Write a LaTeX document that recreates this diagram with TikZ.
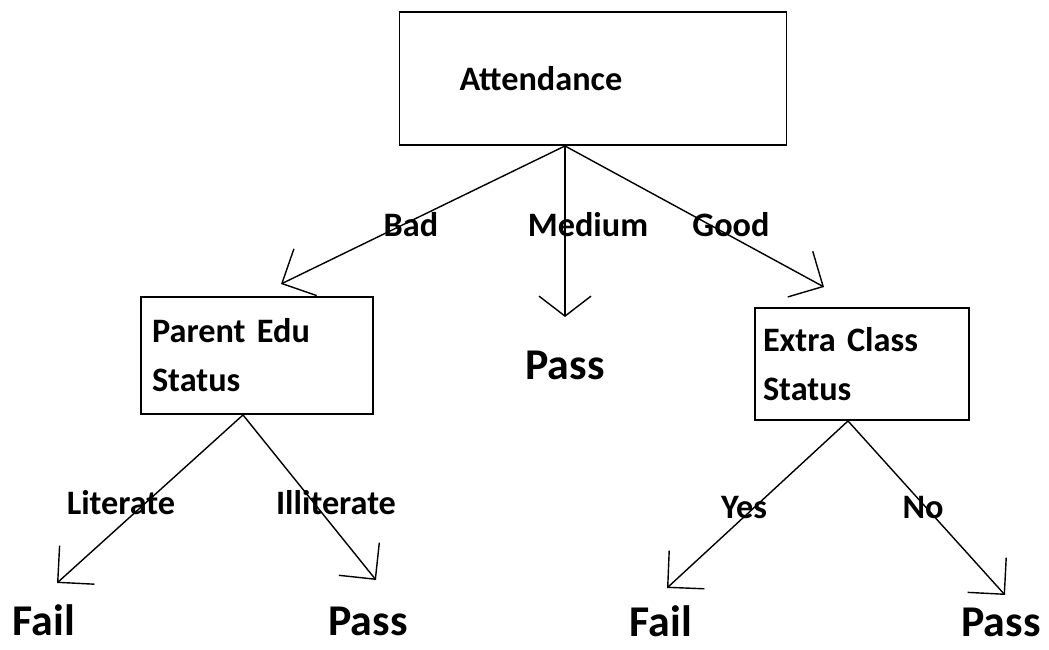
\documentclass[tikz,border=0pt]{standalone}
\usepackage{fontspec}
\setmainfont{Carlito}
\usetikzlibrary{arrows.meta}
\tikzset{
  treebox/.style={draw,line width=1.1pt,align=left,font=\bfseries\fontsize{19.5}{28}\selectfont},
  edgelabel/.style={anchor=base,inner sep=0pt,font=\bfseries\fontsize{19.5}{24}\selectfont},
  leaf/.style={anchor=base,inner sep=0pt,font=\bfseries\fontsize{25}{30}\selectfont},
  barbarrow/.style={line width=0.8pt,-{Straight Barb[length=0.52cm,width=1.04cm]}},
  vbarrow/.style={line width=0.8pt,-{Straight Barb[length=0.4cm,width=1.04cm]}}
}
\begin{document}
\begin{tikzpicture}
    \useasboundingbox (0,0) rectangle (20.98,-13);
    % decision nodes
    \node[treebox,minimum width=7.74cm,minimum height=2.66cm,text width=5.34cm,inner xsep=1.2cm] (att) at (11.86,-1.57) {Attendance};
    \node[treebox,minimum width=4.64cm,minimum height=2.34cm,text width=4.2cm,inner xsep=0.22cm] (parent) at (5.14,-7.11) {Parent Edu\\Status};
    \node[treebox,minimum width=4.28cm,minimum height=2.24cm,text width=3.96cm,inner xsep=0.16cm] (extra) at (17.24,-7.28) {Extra Class\\Status};
    % leaves
    \node[leaf] (passmid) at (11.30,-7.60) {Pass};
    \node[leaf] (failL) at (0.88,-12.72) {Fail};
    \node[leaf] (passL) at (7.36,-12.72) {Pass};
    \node[leaf] (failR) at (13.22,-12.74) {Fail};
    \node[leaf] (passR) at (20.02,-12.74) {Pass};
    % arrow ends
    \coordinate (tipbad) at (5.62,-5.68);
    \coordinate (tipmed) at (11.30,-6.34);
    \coordinate (tipgood) at (16.48,-5.74);
    \coordinate (tiplit) at (1.14,-11.66);
    \coordinate (tipill) at (7.52,-11.60);
    \coordinate (tipyes) at (13.34,-11.76);
    \coordinate (tipno) at (20.10,-11.90);
    \draw[barbarrow] ([xshift=-0.56cm]att.south) -- (tipbad);
    \draw[vbarrow] ([xshift=-0.56cm]att.south) -- (tipmed);
    \draw[barbarrow] ([xshift=-0.56cm]att.south) -- (tipgood);
    \draw[barbarrow] ([xshift=-0.28cm]parent.south) -- (tiplit);
    \draw[barbarrow] ([xshift=-0.28cm]parent.south) -- (tipill);
    \draw[barbarrow] ([xshift=-0.28cm]extra.south) -- (tipyes);
    \draw[barbarrow] ([xshift=-0.28cm]extra.south) -- (tipno);
    % branch labels
    \node[edgelabel] (bad) at (8.22,-4.74) {Bad};
    \node[edgelabel] (medium) at (11.76,-4.74) {Medium};
    \node[edgelabel] (good) at (14.62,-4.74) {Good};
    \node[edgelabel] (literate) at (2.42,-10.30) {Literate};
    \node[edgelabel] (illiterate) at (6.72,-10.30) {Illiterate};
    \node[edgelabel] (yes) at (14.88,-10.38) {Yes};
    \node[edgelabel] (no) at (18.46,-10.38) {No};
\end{tikzpicture}
\end{document}
